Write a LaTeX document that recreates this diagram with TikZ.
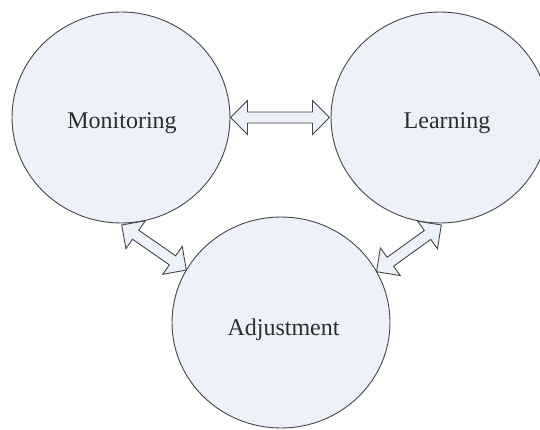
\documentclass[tikz,border=0pt]{standalone}
\usepackage{fontspec}
\setmainfont{Liberation Serif}
\usetikzlibrary{shapes.geometric,calc}
\definecolor{cfill}{RGB}{236,241,250}
\definecolor{cline}{RGB}{70,70,70}
\definecolor{ctext}{RGB}{45,45,45}
\newcommand\dblarrow[2]{%
 \draw[blockarrow] (#1)
   -- ($(#1)!17pt!(#2)!17pt!90:(#2)$)
   -- ($(#1)!17pt!(#2)!5.5pt!90:(#2)$)
   -- ($(#2)!17pt!(#1)!5.5pt!-90:(#1)$)
   -- ($(#2)!17pt!(#1)!17pt!-90:(#1)$)
   -- (#2)
   -- ($(#2)!17pt!(#1)!17pt!90:(#1)$)
   -- ($(#2)!17pt!(#1)!5.5pt!90:(#1)$)
   -- ($(#1)!17pt!(#2)!5.5pt!-90:(#2)$)
   -- ($(#1)!17pt!(#2)!17pt!-90:(#2)$)
   -- cycle;}
\begin{document}
\begin{tikzpicture}[x=1pt,y=-1pt,
 bubble/.style={ellipse, draw=cline, line width=0.9pt, fill=cfill,
   minimum width=218pt, minimum height=211pt, inner sep=0pt, outer sep=0pt},
 blockarrow/.style={draw=cline, line width=0.9pt, fill=cfill, line join=miter},
 lbl/.style={anchor=base, text=ctext, font=\fontsize{24}{28}\selectfont, inner sep=0pt}]
\fill[white] (0,0) rectangle (540,430);
\useasboundingbox (0,0) rectangle (540,430);
\node[bubble] (mon) at (121,117.5) {};
\node[bubble] (lea) at (440,117.5) {};
\node[bubble] (adj) at (281,322.5) {};
\node[lbl] (tmon) at ($(mon.center)+(1,11.5)$) {Monitoring};
\node[lbl] (tlea) at ($(lea.center)+(7,11.5)$) {Learning};
\node[lbl] (tadj) at ($(adj.center)+(2.5,12.5)$) {Adjustment};
\coordinate (a1) at ([xshift=0.5pt]mon.east);
\coordinate (a2) at ([xshift=-1.5pt]lea.west);
\coordinate (b1) at ([xshift=0.7pt,yshift=-2pt]mon.south);
\coordinate (b2) at (adj.151.5);
\coordinate (c1) at ([xshift=1.3pt,yshift=-2pt]lea.south);
\coordinate (c2) at (adj.28.5);
\dblarrow{a1}{a2}
\dblarrow{b1}{b2}
\dblarrow{c1}{c2}
\end{tikzpicture}
\end{document}
